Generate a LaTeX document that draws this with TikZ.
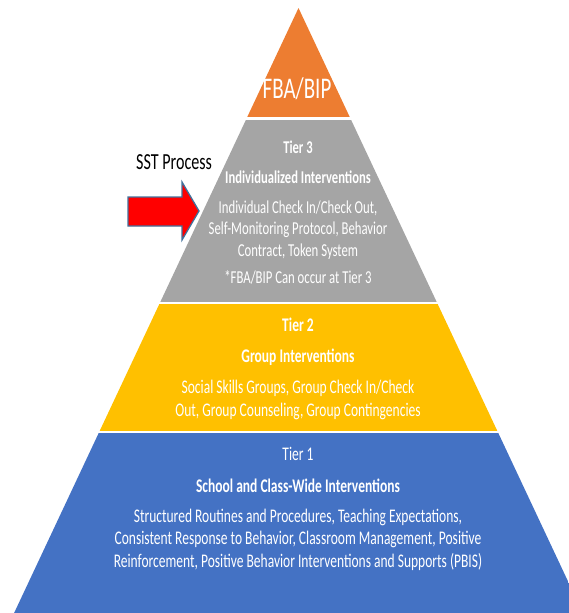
\documentclass[tikz,border=0pt]{standalone}
\usepackage{fontspec}
\setmainfont{Carlito}[FakeStretch=0.7]
\begin{document}
\definecolor{tierorange}{HTML}{ED7D31}
\definecolor{tiergray}{HTML}{A5A5A5}
\definecolor{tieryellow}{HTML}{FFC000}
\definecolor{tierblue}{HTML}{4472C4}
\definecolor{arrowred}{HTML}{FF0000}
\definecolor{arrowedge}{HTML}{41719C}
\begin{tikzpicture}[x=1pt,y=-1pt,
  tiertext/.style={text=white,inner sep=0pt,anchor=base,font=\fontsize{19.3}{22}\selectfont},
  tierhead/.style={tiertext,font=\fontsize{19.3}{22}\selectfont\bfseries},
  smalltext/.style={tiertext,font=\fontsize{18.2}{22}\selectfont},
  smallhead/.style={tiertext,font=\fontsize{18}{22}\selectfont\bfseries},
  sidelabel/.style={text=black,inner sep=0pt,anchor=base west,font=\fontsize{23}{26}\selectfont},
  toplabel/.style={text=white,inner sep=0pt,anchor=base,font=\fontsize{30}{34}\selectfont}]
\useasboundingbox (0,0) rectangle (569,613);

% pyramid bands, separated by thin white gaps
\begin{scope}
  \clip (0,0) rectangle (569,613);
  \clip (298.5,8) -- (14.1,613) -- (582.9,613) -- cycle;
  \fill[tierorange] (0,0) rectangle (569,117);
  \fill[tiergray]   (0,119.5) rectangle (569,302);
  \fill[tieryellow] (0,304) rectangle (569,431);
  \fill[tierblue]   (0,433) rectangle (569,613);
\end{scope}

% apex
\node[toplabel] (fba) at (297,98) {FBA/BIP};

% tier 3
\node[smallhead] (t3) at (298,153) {Tier 3};
\node[smallhead] (t3name) at (298,183) {Individualized Interventions};
\node[smalltext] (t3a) at (298,213) {Individual Check In/Check Out,};
\node[smalltext] (t3b) at (298,234) {Self-Monitoring Protocol, Behavior};
\node[smalltext] (t3c) at (298,256) {Contract, Token System};
\node[smalltext] (t3d) at (298,283) {*FBA/BIP Can occur at Tier 3};

% tier 2
\node[tierhead] (t2) at (298,331) {Tier 2};
\node[tierhead] (t2name) at (298,362) {Group Interventions};
\node[tiertext] (t2a) at (298,393) {Social Skills Groups, Group Check In/Check};
\node[tiertext] (t2b) at (298,416) {Out, Group Counseling, Group Contingencies};

% tier 1
\node[tiertext] (t1) at (298,460) {Tier 1};
\node[tierhead] (t1name) at (298,492) {School and Class-Wide Interventions};
\node[tiertext] (t1a) at (298,522) {Structured Routines and Procedures, Teaching Expectations,};
\node[tiertext] (t1b) at (298,544) {Consistent Response to Behavior, Classroom Management, Positive};
\node[tiertext] (t1c) at (298,567) {Reinforcement, Positive Behavior Interventions and Supports (PBIS)};

% side label and block arrow
\node[sidelabel] (sst) at (136,169) {SST Process};
\draw[fill=arrowred,draw=arrowedge,line width=1.3pt,line join=miter]
  (128,197) -- (182,197) -- (182,182) -- (199,211) -- (182,240) -- (182,226) -- (128,226) -- cycle;
\end{tikzpicture}
\end{document}
